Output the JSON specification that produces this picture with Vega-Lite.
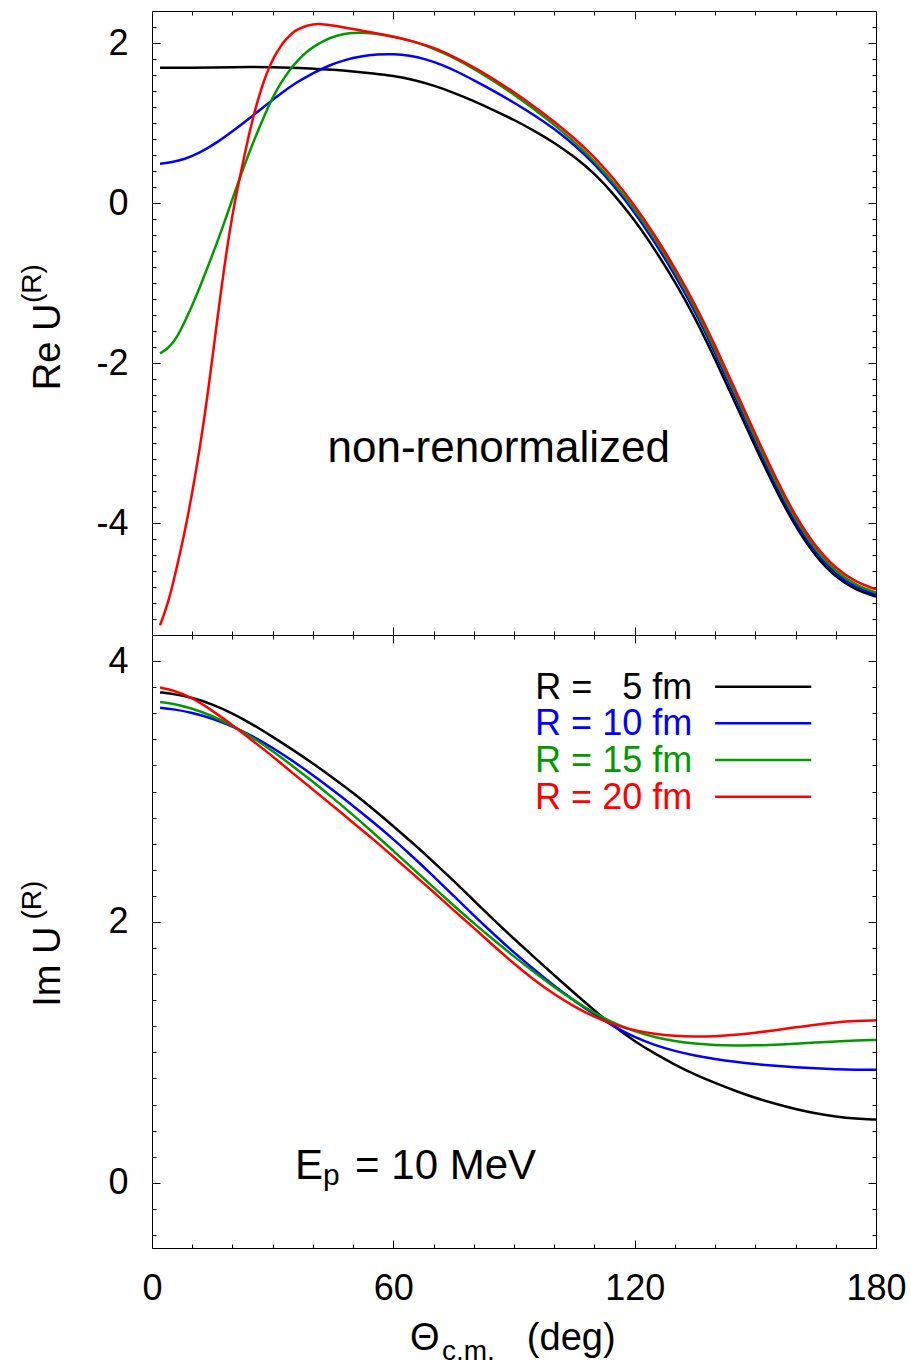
{
  "$schema": "https://vega.github.io/schema/vega-lite/v6.json",
  "autosize": {"type": "none"},
  "padding": {"left": 152, "top": 11, "right": 759, "bottom": 1354},
  "background": "white",
  "spacing": 0,
  "bounds": "flush",
  "config": {
    "font": "Liberation Sans",
    "view": {"stroke": "#000000", "strokeWidth": 1},
    "axis": {"grid": false, "domain": false, "tickColor": "#000000", "tickWidth": 1, "labelFont": "Liberation Sans", "labelColor": "#000000", "labelFontSize": 36, "labelFlush": false, "labelOverlap": false, "labelBound": false}
  },
  "datasets": {
    "re": [
      {"t":2,"R":5,"v":1.69},{"t":10,"R":5,"v":1.69},{"t":20,"R":5,"v":1.70},{"t":30,"R":5,"v":1.70},{"t":40,"R":5,"v":1.68},{"t":45,"R":5,"v":1.665},{"t":50,"R":5,"v":1.645},{"t":55,"R":5,"v":1.62},{"t":60,"R":5,"v":1.59},{"t":65,"R":5,"v":1.54},{"t":70,"R":5,"v":1.47},{"t":75,"R":5,"v":1.38},{"t":80,"R":5,"v":1.275},{"t":85,"R":5,"v":1.16},{"t":90,"R":5,"v":1.04},{"t":95,"R":5,"v":0.905},{"t":100,"R":5,"v":0.755},{"t":105,"R":5,"v":0.58},{"t":110,"R":5,"v":0.37},{"t":115,"R":5,"v":0.1},{"t":120,"R":5,"v":-0.215},{"t":125,"R":5,"v":-0.58},{"t":130,"R":5,"v":-0.98},{"t":135,"R":5,"v":-1.43},{"t":140,"R":5,"v":-1.95},{"t":145,"R":5,"v":-2.5},{"t":150,"R":5,"v":-3.05},{"t":155,"R":5,"v":-3.58},{"t":160,"R":5,"v":-4.05},{"t":165,"R":5,"v":-4.42},{"t":170,"R":5,"v":-4.68},{"t":175,"R":5,"v":-4.84},{"t":180,"R":5,"v":-4.92},
      {"t":2,"R":10,"v":0.49},{"t":5,"R":10,"v":0.51},{"t":8,"R":10,"v":0.545},{"t":12,"R":10,"v":0.63},{"t":16,"R":10,"v":0.75},{"t":20,"R":10,"v":0.895},{"t":24,"R":10,"v":1.05},{"t":28,"R":10,"v":1.21},{"t":32,"R":10,"v":1.37},{"t":36,"R":10,"v":1.51},{"t":40,"R":10,"v":1.625},{"t":44,"R":10,"v":1.72},{"t":48,"R":10,"v":1.79},{"t":52,"R":10,"v":1.835},{"t":56,"R":10,"v":1.858},{"t":60,"R":10,"v":1.862},{"t":64,"R":10,"v":1.845},{"t":68,"R":10,"v":1.80},{"t":72,"R":10,"v":1.73},{"t":76,"R":10,"v":1.64},{"t":80,"R":10,"v":1.535},{"t":85,"R":10,"v":1.40},{"t":90,"R":10,"v":1.255},{"t":95,"R":10,"v":1.10},{"t":100,"R":10,"v":0.93},{"t":105,"R":10,"v":0.725},{"t":110,"R":10,"v":0.49},{"t":115,"R":10,"v":0.205},{"t":120,"R":10,"v":-0.115},{"t":125,"R":10,"v":-0.49},{"t":130,"R":10,"v":-0.895},{"t":135,"R":10,"v":-1.35},{"t":140,"R":10,"v":-1.87},{"t":145,"R":10,"v":-2.43},{"t":150,"R":10,"v":-2.985},{"t":155,"R":10,"v":-3.52},{"t":160,"R":10,"v":-4.0},{"t":165,"R":10,"v":-4.375},{"t":170,"R":10,"v":-4.64},{"t":175,"R":10,"v":-4.81},{"t":180,"R":10,"v":-4.895},
      {"t":2,"R":15,"v":-1.88},{"t":4,"R":15,"v":-1.82},{"t":6,"R":15,"v":-1.70},{"t":8,"R":15,"v":-1.50},{"t":10,"R":15,"v":-1.28},{"t":12,"R":15,"v":-1.04},{"t":14,"R":15,"v":-0.78},{"t":16,"R":15,"v":-0.52},{"t":18,"R":15,"v":-0.24},{"t":20,"R":15,"v":0.05},{"t":22,"R":15,"v":0.34},{"t":24,"R":15,"v":0.61},{"t":26,"R":15,"v":0.86},{"t":28,"R":15,"v":1.10},{"t":30,"R":15,"v":1.32},{"t":32,"R":15,"v":1.50},{"t":34,"R":15,"v":1.65},{"t":36,"R":15,"v":1.77},{"t":38,"R":15,"v":1.87},{"t":40,"R":15,"v":1.95},{"t":43,"R":15,"v":2.04},{"t":46,"R":15,"v":2.095},{"t":49,"R":15,"v":2.125},{"t":52,"R":15,"v":2.13},{"t":55,"R":15,"v":2.12},{"t":58,"R":15,"v":2.10},{"t":62,"R":15,"v":2.06},{"t":66,"R":15,"v":2.005},{"t":70,"R":15,"v":1.93},{"t":75,"R":15,"v":1.82},{"t":80,"R":15,"v":1.68},{"t":85,"R":15,"v":1.525},{"t":90,"R":15,"v":1.355},{"t":95,"R":15,"v":1.175},{"t":100,"R":15,"v":0.98},{"t":105,"R":15,"v":0.765},{"t":110,"R":15,"v":0.525},{"t":115,"R":15,"v":0.245},{"t":120,"R":15,"v":-0.075},{"t":125,"R":15,"v":-0.445},{"t":130,"R":15,"v":-0.85},{"t":135,"R":15,"v":-1.305},{"t":140,"R":15,"v":-1.83},{"t":145,"R":15,"v":-2.385},{"t":150,"R":15,"v":-2.94},{"t":155,"R":15,"v":-3.48},{"t":160,"R":15,"v":-3.96},{"t":165,"R":15,"v":-4.34},{"t":170,"R":15,"v":-4.61},{"t":175,"R":15,"v":-4.78},{"t":180,"R":15,"v":-4.87},
      {"t":2,"R":20,"v":-5.28},{"t":3,"R":20,"v":-5.14},{"t":4,"R":20,"v":-4.99},{"t":5,"R":20,"v":-4.80},{"t":6,"R":20,"v":-4.59},{"t":7,"R":20,"v":-4.37},{"t":8,"R":20,"v":-4.14},{"t":9,"R":20,"v":-3.89},{"t":10,"R":20,"v":-3.62},{"t":11,"R":20,"v":-3.33},{"t":12,"R":20,"v":-3.02},{"t":13,"R":20,"v":-2.69},{"t":14,"R":20,"v":-2.33},{"t":15,"R":20,"v":-1.94},{"t":16,"R":20,"v":-1.55},{"t":17,"R":20,"v":-1.16},{"t":18,"R":20,"v":-0.79},{"t":19,"R":20,"v":-0.45},{"t":20,"R":20,"v":-0.15},{"t":21,"R":20,"v":0.12},{"t":22,"R":20,"v":0.36},{"t":23,"R":20,"v":0.60},{"t":24,"R":20,"v":0.83},{"t":25,"R":20,"v":1.04},{"t":26,"R":20,"v":1.23},{"t":27,"R":20,"v":1.40},{"t":28,"R":20,"v":1.55},{"t":29,"R":20,"v":1.68},{"t":30,"R":20,"v":1.79},{"t":31,"R":20,"v":1.88},{"t":32,"R":20,"v":1.96},{"t":33,"R":20,"v":2.03},{"t":34,"R":20,"v":2.08},{"t":35,"R":20,"v":2.13},{"t":36,"R":20,"v":2.165},{"t":38,"R":20,"v":2.21},{"t":40,"R":20,"v":2.235},{"t":42,"R":20,"v":2.24},{"t":45,"R":20,"v":2.22},{"t":50,"R":20,"v":2.175},{"t":55,"R":20,"v":2.13},{"t":60,"R":20,"v":2.08},{"t":65,"R":20,"v":2.02},{"t":70,"R":20,"v":1.945},{"t":75,"R":20,"v":1.83},{"t":80,"R":20,"v":1.70},{"t":85,"R":20,"v":1.55},{"t":90,"R":20,"v":1.385},{"t":95,"R":20,"v":1.21},{"t":100,"R":20,"v":1.02},{"t":105,"R":20,"v":0.81},{"t":110,"R":20,"v":0.575},{"t":115,"R":20,"v":0.295},{"t":120,"R":20,"v":-0.03},{"t":125,"R":20,"v":-0.4},{"t":130,"R":20,"v":-0.81},{"t":135,"R":20,"v":-1.26},{"t":140,"R":20,"v":-1.78},{"t":145,"R":20,"v":-2.335},{"t":150,"R":20,"v":-2.89},{"t":155,"R":20,"v":-3.43},{"t":160,"R":20,"v":-3.92},{"t":165,"R":20,"v":-4.30},{"t":170,"R":20,"v":-4.57},{"t":175,"R":20,"v":-4.74},{"t":180,"R":20,"v":-4.83}
    ],
    "im": [
      {"t":2,"R":5,"v":3.76},{"t":5,"R":5,"v":3.75},{"t":10,"R":5,"v":3.72},{"t":15,"R":5,"v":3.67},{"t":20,"R":5,"v":3.6},{"t":25,"R":5,"v":3.515},{"t":30,"R":5,"v":3.42},{"t":35,"R":5,"v":3.32},{"t":40,"R":5,"v":3.215},{"t":45,"R":5,"v":3.105},{"t":50,"R":5,"v":2.99},{"t":55,"R":5,"v":2.865},{"t":60,"R":5,"v":2.735},{"t":65,"R":5,"v":2.6},{"t":70,"R":5,"v":2.46},{"t":75,"R":5,"v":2.315},{"t":80,"R":5,"v":2.165},{"t":85,"R":5,"v":2.015},{"t":90,"R":5,"v":1.87},{"t":95,"R":5,"v":1.73},{"t":100,"R":5,"v":1.59},{"t":105,"R":5,"v":1.455},{"t":110,"R":5,"v":1.32},{"t":115,"R":5,"v":1.195},{"t":120,"R":5,"v":1.085},{"t":125,"R":5,"v":0.99},{"t":130,"R":5,"v":0.905},{"t":135,"R":5,"v":0.83},{"t":140,"R":5,"v":0.765},{"t":145,"R":5,"v":0.705},{"t":150,"R":5,"v":0.65},{"t":155,"R":5,"v":0.605},{"t":160,"R":5,"v":0.565},{"t":165,"R":5,"v":0.532},{"t":170,"R":5,"v":0.507},{"t":175,"R":5,"v":0.491},{"t":180,"R":5,"v":0.485},
      {"t":2,"R":10,"v":3.642},{"t":5,"R":10,"v":3.633},{"t":10,"R":10,"v":3.605},{"t":15,"R":10,"v":3.56},{"t":20,"R":10,"v":3.50},{"t":25,"R":10,"v":3.425},{"t":30,"R":10,"v":3.335},{"t":35,"R":10,"v":3.235},{"t":40,"R":10,"v":3.125},{"t":45,"R":10,"v":3.01},{"t":50,"R":10,"v":2.89},{"t":55,"R":10,"v":2.765},{"t":60,"R":10,"v":2.635},{"t":65,"R":10,"v":2.495},{"t":70,"R":10,"v":2.35},{"t":75,"R":10,"v":2.20},{"t":80,"R":10,"v":2.05},{"t":85,"R":10,"v":1.905},{"t":90,"R":10,"v":1.765},{"t":95,"R":10,"v":1.635},{"t":100,"R":10,"v":1.51},{"t":105,"R":10,"v":1.395},{"t":110,"R":10,"v":1.29},{"t":115,"R":10,"v":1.195},{"t":120,"R":10,"v":1.115},{"t":125,"R":10,"v":1.055},{"t":130,"R":10,"v":1.01},{"t":135,"R":10,"v":0.975},{"t":140,"R":10,"v":0.948},{"t":145,"R":10,"v":0.927},{"t":150,"R":10,"v":0.91},{"t":155,"R":10,"v":0.896},{"t":160,"R":10,"v":0.885},{"t":165,"R":10,"v":0.877},{"t":170,"R":10,"v":0.871},{"t":175,"R":10,"v":0.867},{"t":180,"R":10,"v":0.866},
      {"t":2,"R":15,"v":3.687},{"t":5,"R":15,"v":3.676},{"t":10,"R":15,"v":3.638},{"t":15,"R":15,"v":3.58},{"t":20,"R":15,"v":3.505},{"t":25,"R":15,"v":3.415},{"t":30,"R":15,"v":3.31},{"t":35,"R":15,"v":3.195},{"t":40,"R":15,"v":3.075},{"t":45,"R":15,"v":2.95},{"t":50,"R":15,"v":2.82},{"t":55,"R":15,"v":2.685},{"t":60,"R":15,"v":2.545},{"t":65,"R":15,"v":2.405},{"t":70,"R":15,"v":2.265},{"t":75,"R":15,"v":2.125},{"t":80,"R":15,"v":1.99},{"t":85,"R":15,"v":1.86},{"t":90,"R":15,"v":1.735},{"t":95,"R":15,"v":1.615},{"t":100,"R":15,"v":1.5},{"t":105,"R":15,"v":1.395},{"t":110,"R":15,"v":1.3},{"t":115,"R":15,"v":1.22},{"t":120,"R":15,"v":1.16},{"t":125,"R":15,"v":1.115},{"t":130,"R":15,"v":1.085},{"t":135,"R":15,"v":1.066},{"t":140,"R":15,"v":1.056},{"t":145,"R":15,"v":1.052},{"t":150,"R":15,"v":1.053},{"t":155,"R":15,"v":1.058},{"t":160,"R":15,"v":1.066},{"t":165,"R":15,"v":1.075},{"t":170,"R":15,"v":1.084},{"t":175,"R":15,"v":1.091},{"t":180,"R":15,"v":1.095},
      {"t":2,"R":20,"v":3.797},{"t":5,"R":20,"v":3.78},{"t":10,"R":20,"v":3.72},{"t":15,"R":20,"v":3.62},{"t":20,"R":20,"v":3.51},{"t":25,"R":20,"v":3.39},{"t":30,"R":20,"v":3.27},{"t":35,"R":20,"v":3.14},{"t":40,"R":20,"v":3.015},{"t":45,"R":20,"v":2.89},{"t":50,"R":20,"v":2.76},{"t":55,"R":20,"v":2.635},{"t":60,"R":20,"v":2.50},{"t":65,"R":20,"v":2.365},{"t":70,"R":20,"v":2.23},{"t":75,"R":20,"v":2.09},{"t":80,"R":20,"v":1.955},{"t":85,"R":20,"v":1.815},{"t":90,"R":20,"v":1.68},{"t":95,"R":20,"v":1.555},{"t":100,"R":20,"v":1.445},{"t":105,"R":20,"v":1.35},{"t":110,"R":20,"v":1.27},{"t":115,"R":20,"v":1.21},{"t":120,"R":20,"v":1.168},{"t":125,"R":20,"v":1.14},{"t":130,"R":20,"v":1.125},{"t":135,"R":20,"v":1.12},{"t":140,"R":20,"v":1.123},{"t":145,"R":20,"v":1.133},{"t":150,"R":20,"v":1.15},{"t":155,"R":20,"v":1.17},{"t":160,"R":20,"v":1.192},{"t":165,"R":20,"v":1.213},{"t":170,"R":20,"v":1.23},{"t":175,"R":20,"v":1.241},{"t":180,"R":20,"v":1.246}
    ]
  },
  "vconcat": [
    {
      "width": 724,
      "height": 624,
      "data": {"name": "re"},
      "resolve": {"axis": {"x": "independent", "y": "independent"}},
      "layer": [
        {
          "mark": {"type": "line", "strokeWidth": 2.5, "interpolate": "basis"},
          "encoding": {
            "x": {"field": "t", "type": "quantitative", "scale": {"domain": [0, 180], "nice": false, "zero": false}, "axis": null},
            "y": {"field": "v", "type": "quantitative", "scale": {"domain": [-5.4, 2.4], "nice": false, "zero": false},
                  "axis": {"orient": "left", "values": [-4, -2, 0, 2], "ticks": false, "labelPadding": 24, "title": null,
                           "labelExpr": "datum.value < 0 ? '-' + (-datum.value) : '' + datum.value"}},
            "color": {"field": "R", "type": "nominal", "scale": {"domain": [5, 10, 15, 20], "range": ["#000000", "#0000ff", "#009a00", "#ff0000"]}, "legend": null}
          }
        },
        {
          "mark": {"type": "point", "opacity": 0},
          "encoding": {
            "x": {"field": "t", "type": "quantitative", "axis": {"orient": "bottom", "values": [0, 60, 120, 180], "tickSize": -8, "labels": false, "title": null}},
            "y": {"field": "v", "type": "quantitative", "axis": {"orient": "left", "values": [-4, -2, 0, 2], "tickSize": -8, "labels": false, "title": null}}
          }
        },
        {
          "mark": {"type": "point", "opacity": 0},
          "encoding": {
            "x": {"field": "t", "type": "quantitative", "axis": {"orient": "bottom", "values": [10, 20, 30, 40, 50, 70, 80, 90, 100, 110, 130, 140, 150, 160, 170], "tickSize": -4, "labels": false, "title": null}},
            "y": {"field": "v", "type": "quantitative", "axis": {"orient": "left", "values": [-5.2, -5, -4.8, -4.6, -4.4, -4.2, -3.8, -3.6, -3.4, -3.2, -3, -2.8, -2.6, -2.4, -2.2, -1.8, -1.6, -1.4, -1.2, -1, -0.8, -0.6, -0.4, -0.2, 0.2, 0.4, 0.6, 0.8, 1, 1.2, 1.4, 1.6, 1.8, 2.2], "tickSize": -4, "labels": false, "title": null}}
          }
        },
        {
          "mark": {"type": "point", "opacity": 0},
          "encoding": {
            "x": {"field": "t", "type": "quantitative", "axis": {"orient": "top", "values": [0, 60, 120, 180], "tickSize": -8, "labels": false, "title": null}},
            "y": {"field": "v", "type": "quantitative", "axis": {"orient": "right", "values": [-4, -2, 0, 2], "tickSize": -8, "labels": false, "title": null}}
          }
        },
        {
          "mark": {"type": "point", "opacity": 0},
          "encoding": {
            "x": {"field": "t", "type": "quantitative", "axis": {"orient": "top", "values": [10, 20, 30, 40, 50, 70, 80, 90, 100, 110, 130, 140, 150, 160, 170], "tickSize": -4, "labels": false, "title": null}},
            "y": {"field": "v", "type": "quantitative", "axis": {"orient": "right", "values": [-5.2, -5, -4.8, -4.6, -4.4, -4.2, -3.8, -3.6, -3.4, -3.2, -3, -2.8, -2.6, -2.4, -2.2, -1.8, -1.6, -1.4, -1.2, -1, -0.8, -0.6, -0.4, -0.2, 0.2, 0.4, 0.6, 0.8, 1, 1.2, 1.4, 1.6, 1.8, 2.2], "tickSize": -4, "labels": false, "title": null}}
          }
        },
        {
          "data": {"values": [{}]},
          "mark": {"type": "text", "fontSize": 44, "align": "center", "baseline": "alphabetic", "color": "#000000"},
          "encoding": {
            "x": {"datum": 86.2, "type": "quantitative", "axis": null},
            "y": {"datum": -3.24, "type": "quantitative", "axis": null},
            "text": {"value": "non-renormalized"}
          }
        },
        {
          "data": {"values": [{}]},
          "mark": {"type": "text", "fontSize": 38, "align": "left", "baseline": "alphabetic", "angle": 270, "color": "#000000"},
          "encoding": {
            "x": {"datum": -22.9, "type": "quantitative", "axis": null},
            "y": {"datum": -2.34, "type": "quantitative", "axis": null},
            "text": {"value": "Re U"}
          }
        },
        {
          "data": {"values": [{}]},
          "mark": {"type": "text", "fontSize": 28, "align": "left", "baseline": "alphabetic", "angle": 270, "color": "#000000"},
          "encoding": {
            "x": {"datum": -27.65, "type": "quantitative", "axis": null},
            "y": {"datum": -1.25, "type": "quantitative", "axis": null},
            "text": {"value": "(R)"}
          }
        }
      ]
    },
    {
      "width": 724,
      "height": 613,
      "data": {"name": "im"},
      "resolve": {"axis": {"x": "independent", "y": "independent"}},
      "layer": [
        {
          "mark": {"type": "line", "strokeWidth": 2.5, "interpolate": "basis"},
          "encoding": {
            "x": {"field": "t", "type": "quantitative", "scale": {"domain": [0, 180], "nice": false, "zero": false},
                  "axis": {"orient": "bottom", "values": [0, 60, 120, 180], "ticks": false, "labelPadding": 23, "title": null}},
            "y": {"field": "v", "type": "quantitative", "scale": {"domain": [-0.5, 4.2], "nice": false, "zero": false},
                  "axis": {"orient": "left", "values": [0, 2, 4], "ticks": false, "labelPadding": 24, "title": null}},
            "color": {"field": "R", "type": "nominal", "scale": {"domain": [5, 10, 15, 20], "range": ["#000000", "#0000ff", "#009a00", "#ff0000"]}, "legend": null}
          }
        },
        {
          "mark": {"type": "point", "opacity": 0},
          "encoding": {
            "x": {"field": "t", "type": "quantitative", "axis": {"orient": "bottom", "values": [0, 60, 120, 180], "tickSize": -8, "labels": false, "title": null}},
            "y": {"field": "v", "type": "quantitative", "axis": {"orient": "left", "values": [0, 2, 4], "tickSize": -8, "labels": false, "title": null}}
          }
        },
        {
          "mark": {"type": "point", "opacity": 0},
          "encoding": {
            "x": {"field": "t", "type": "quantitative", "axis": {"orient": "bottom", "values": [10, 20, 30, 40, 50, 70, 80, 90, 100, 110, 130, 140, 150, 160, 170], "tickSize": -4, "labels": false, "title": null}},
            "y": {"field": "v", "type": "quantitative", "axis": {"orient": "left", "values": [-0.4, -0.2, 0.2, 0.4, 0.6, 0.8, 1, 1.2, 1.4, 1.6, 1.8, 2.2, 2.4, 2.6, 2.8, 3, 3.2, 3.4, 3.6, 3.8], "tickSize": -4, "labels": false, "title": null}}
          }
        },
        {
          "mark": {"type": "point", "opacity": 0},
          "encoding": {
            "x": {"field": "t", "type": "quantitative", "axis": {"orient": "top", "values": [0, 60, 120, 180], "tickSize": -8, "labels": false, "title": null}},
            "y": {"field": "v", "type": "quantitative", "axis": {"orient": "right", "values": [0, 2, 4], "tickSize": -8, "labels": false, "title": null}}
          }
        },
        {
          "mark": {"type": "point", "opacity": 0},
          "encoding": {
            "x": {"field": "t", "type": "quantitative", "axis": {"orient": "top", "values": [10, 20, 30, 40, 50, 70, 80, 90, 100, 110, 130, 140, 150, 160, 170], "tickSize": -4, "labels": false, "title": null}},
            "y": {"field": "v", "type": "quantitative", "axis": {"orient": "right", "values": [-0.4, -0.2, 0.2, 0.4, 0.6, 0.8, 1, 1.2, 1.4, 1.6, 1.8, 2.2, 2.4, 2.6, 2.8, 3, 3.2, 3.4, 3.6, 3.8], "tickSize": -4, "labels": false, "title": null}}
          }
        },
        {
          "data": {"values": [{}]},
          "mark": {"type": "text", "fontSize": 36, "align": "right", "baseline": "alphabetic", "color": "#000000"},
          "encoding": {"x": {"datum": 134.3, "type": "quantitative", "axis": null}, "y": {"datum": 3.712, "type": "quantitative", "axis": null}, "text": {"value": "R = \u00a0\u00a05 fm"}}
        },
        {
          "data": {"values": [{}]},
          "mark": {"type": "text", "fontSize": 36, "align": "right", "baseline": "alphabetic", "color": "#0000ff"},
          "encoding": {"x": {"datum": 134.3, "type": "quantitative", "axis": null}, "y": {"datum": 3.431, "type": "quantitative", "axis": null}, "text": {"value": "R = 10 fm"}}
        },
        {
          "data": {"values": [{}]},
          "mark": {"type": "text", "fontSize": 36, "align": "right", "baseline": "alphabetic", "color": "#009a00"},
          "encoding": {"x": {"datum": 134.3, "type": "quantitative", "axis": null}, "y": {"datum": 3.150, "type": "quantitative", "axis": null}, "text": {"value": "R = 15 fm"}}
        },
        {
          "data": {"values": [{}]},
          "mark": {"type": "text", "fontSize": 36, "align": "right", "baseline": "alphabetic", "color": "#ff0000"},
          "encoding": {"x": {"datum": 134.3, "type": "quantitative", "axis": null}, "y": {"datum": 2.868, "type": "quantitative", "axis": null}, "text": {"value": "R = 20 fm"}}
        },
        {
          "data": {"values": [{}]},
          "mark": {"type": "rule", "strokeWidth": 2.5, "color": "#000000"},
          "encoding": {"x": {"datum": 140, "type": "quantitative", "axis": null}, "x2": {"datum": 163.9}, "y": {"datum": 3.804, "type": "quantitative", "axis": null}}
        },
        {
          "data": {"values": [{}]},
          "mark": {"type": "rule", "strokeWidth": 2.5, "color": "#0000ff"},
          "encoding": {"x": {"datum": 140, "type": "quantitative", "axis": null}, "x2": {"datum": 163.9}, "y": {"datum": 3.523, "type": "quantitative", "axis": null}}
        },
        {
          "data": {"values": [{}]},
          "mark": {"type": "rule", "strokeWidth": 2.5, "color": "#009a00"},
          "encoding": {"x": {"datum": 140, "type": "quantitative", "axis": null}, "x2": {"datum": 163.9}, "y": {"datum": 3.241, "type": "quantitative", "axis": null}}
        },
        {
          "data": {"values": [{}]},
          "mark": {"type": "rule", "strokeWidth": 2.5, "color": "#ff0000"},
          "encoding": {"x": {"datum": 140, "type": "quantitative", "axis": null}, "x2": {"datum": 163.9}, "y": {"datum": 2.960, "type": "quantitative", "axis": null}}
        },
        {
          "data": {"values": [{}]},
          "mark": {"type": "text", "fontSize": 42, "align": "left", "baseline": "alphabetic", "color": "#000000"},
          "encoding": {"x": {"datum": 35.55, "type": "quantitative", "axis": null}, "y": {"datum": 0.028, "type": "quantitative", "axis": null}, "text": {"value": "E"}}
        },
        {
          "data": {"values": [{}]},
          "mark": {"type": "text", "fontSize": 30, "align": "left", "baseline": "alphabetic", "color": "#000000"},
          "encoding": {"x": {"datum": 42.5, "type": "quantitative", "axis": null}, "y": {"datum": -0.018, "type": "quantitative", "axis": null}, "text": {"value": "p"}}
        },
        {
          "data": {"values": [{}]},
          "mark": {"type": "text", "fontSize": 42, "align": "left", "baseline": "alphabetic", "color": "#000000"},
          "encoding": {"x": {"datum": 50.5, "type": "quantitative", "axis": null}, "y": {"datum": 0.028, "type": "quantitative", "axis": null}, "text": {"value": "= 10 MeV"}}
        },
        {
          "data": {"values": [{}]},
          "mark": {"type": "text", "fontSize": 38, "align": "left", "baseline": "alphabetic", "angle": 270, "color": "#000000"},
          "encoding": {"x": {"datum": -22.9, "type": "quantitative", "axis": null}, "y": {"datum": 1.349, "type": "quantitative", "axis": null}, "text": {"value": "Im U"}}
        },
        {
          "data": {"values": [{}]},
          "mark": {"type": "text", "fontSize": 28, "align": "left", "baseline": "alphabetic", "angle": 270, "color": "#000000"},
          "encoding": {"x": {"datum": -27.65, "type": "quantitative", "axis": null}, "y": {"datum": 2.018, "type": "quantitative", "axis": null}, "text": {"value": "(R)"}}
        },
        {
          "data": {"values": [{}]},
          "mark": {"type": "text", "fontSize": 38, "align": "left", "baseline": "alphabetic", "color": "#000000"},
          "encoding": {"x": {"datum": 64.15, "type": "quantitative", "axis": null}, "y": {"datum": -1.283, "type": "quantitative", "axis": null}, "text": {"value": "Θ"}}
        },
        {
          "data": {"values": [{}]},
          "mark": {"type": "text", "fontSize": 28, "align": "left", "baseline": "alphabetic", "color": "#000000"},
          "encoding": {"x": {"datum": 72.1, "type": "quantitative", "axis": null}, "y": {"datum": -1.36, "type": "quantitative", "axis": null}, "text": {"value": "c.m."}}
        },
        {
          "data": {"values": [{}]},
          "mark": {"type": "text", "fontSize": 38, "align": "left", "baseline": "alphabetic", "color": "#000000"},
          "encoding": {"x": {"datum": 93.2, "type": "quantitative", "axis": null}, "y": {"datum": -1.283, "type": "quantitative", "axis": null}, "text": {"value": "(deg)"}}
        }
      ]
    }
  ]
}
